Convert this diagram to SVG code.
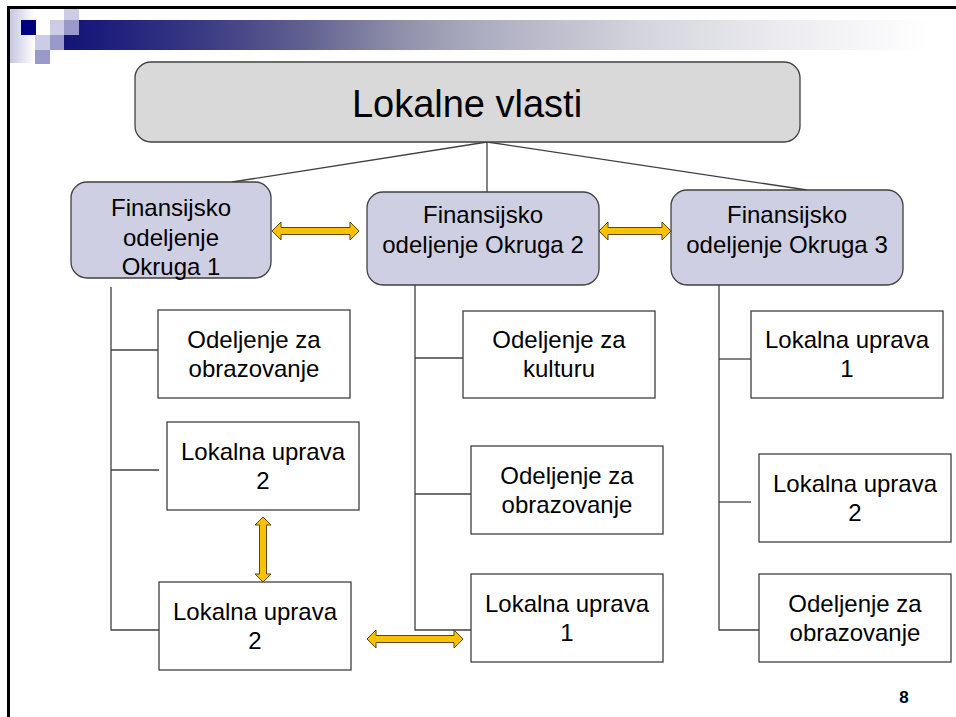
<svg xmlns="http://www.w3.org/2000/svg" width="956" height="717" viewBox="0 0 956 717">
<defs>
<linearGradient id="bar" gradientUnits="userSpaceOnUse" x1="64" y1="0" x2="956" y2="0">
<stop offset="0" stop-color="#14147a"/>
<stop offset="0.04" stop-color="#1c1c7c"/>
<stop offset="0.155" stop-color="#3a3a84"/>
<stop offset="0.265" stop-color="#5f5f90"/>
<stop offset="0.376" stop-color="#8f8faa"/>
<stop offset="0.466" stop-color="#acacc0"/>
<stop offset="0.646" stop-color="#d4d4dd"/>
<stop offset="0.825" stop-color="#eeeef2"/>
<stop offset="0.97" stop-color="#ffffff"/>
</linearGradient>
<linearGradient id="fade" x1="0" y1="0" x2="1" y2="0">
<stop offset="0" stop-color="#c6c6e2"/>
<stop offset="1" stop-color="#ffffff"/>
</linearGradient>
</defs>
<style>
.rbox{fill:#cfcfe3;stroke:#404040;stroke-width:1.3}
.top{fill:#d9d9d9;stroke:#404040;stroke-width:1.3}
.box{fill:#ffffff;stroke:#404040;stroke-width:1.3}
.ln{stroke:#404040;stroke-width:1.3;fill:none}
.arr{fill:#ffc000;stroke:#5c4800;stroke-width:1}
text{font-family:"Liberation Sans",Arial,sans-serif;fill:#000;text-anchor:middle}
.t{font-size:24px}
</style>
<rect width="956" height="717" fill="#ffffff"/>
<g id="header">
<rect x="10" y="9" width="25" height="54" fill="url(#fade)"/>
<rect x="64" y="20" width="892" height="30" fill="url(#bar)"/>
<rect x="64" y="9" width="15" height="11" fill="#ccccE6"/>
<rect x="21" y="20" width="15" height="15" fill="#000080"/>
<rect x="50" y="20" width="14" height="15" fill="#ccccE6"/>
<rect x="64" y="20" width="15" height="15" fill="#9999cc"/>
<rect x="35" y="35" width="15" height="15" fill="#ccccE6"/>
<rect x="50" y="35" width="14" height="15" fill="#9999cc"/>
<rect x="35" y="50" width="15" height="14" fill="#9999cc"/>
<line x1="7" y1="7.5" x2="956" y2="7.5" stroke="#000" stroke-width="3"/>
<line x1="8.5" y1="6" x2="8.5" y2="717" stroke="#000" stroke-width="3"/>
</g>
<g id="connectors">
<line class="ln" x1="487" y1="142" x2="232" y2="182"/>
<line class="ln" x1="487" y1="142" x2="487" y2="192"/>
<line class="ln" x1="487" y1="142" x2="807" y2="190"/>
<polyline class="ln" points="111,287 111,630 159,630"/>
<line class="ln" x1="111" y1="350" x2="158" y2="350"/>
<line class="ln" x1="111" y1="470" x2="159" y2="470"/>
<polyline class="ln" points="415,285 415,630 471,630"/>
<line class="ln" x1="415" y1="358" x2="463" y2="358"/>
<line class="ln" x1="415" y1="494" x2="471" y2="494"/>
<polyline class="ln" points="719,285 719,630 759,630"/>
<line class="ln" x1="719" y1="359" x2="751" y2="359"/>
<line class="ln" x1="719" y1="502" x2="751" y2="502"/>
<polygon class="arr" points="272,231 281,222 281,227.5 350,227.5 350,222 359,231 350,240 350,234.5 281,234.5 281,240"/>
<polygon class="arr" points="599,231 608,222 608,227.5 662,227.5 662,222 671,231 662,240 662,234.5 608,234.5 608,240"/>
<polygon class="arr" points="367,639 376,630 376,635.5 454,635.5 454,630 463,639 454,648 454,642.5 376,642.5 376,648"/>
<polygon class="arr" points="263,517 271,525 266.5,525 266.5,574 271,574 263,582 255,574 259.5,574 259.5,525 255,525"/>
</g>
<g id="n-root">
<rect class="top" x="135" y="62" width="665" height="80" rx="16"/>
<text x="467" y="117" font-size="38">Lokalne vlasti</text>
</g>
<g id="n-fin1">
<rect class="rbox" x="71" y="182" width="200" height="96" rx="16"/>
<text class="t" x="171" y="216">Finansijsko</text>
<text class="t" x="171" y="246">odeljenje</text>
<text class="t" x="171" y="275">Okruga 1</text>
</g>
<g id="n-fin2">
<rect class="rbox" x="367" y="192" width="232" height="93" rx="16"/>
<text class="t" x="483" y="223">Finansijsko</text>
<text class="t" x="483" y="253">odeljenje Okruga 2</text>
</g>
<g id="n-fin3">
<rect class="rbox" x="671" y="190" width="232" height="95" rx="16"/>
<text class="t" x="787" y="223">Finansijsko</text>
<text class="t" x="787" y="253">odeljenje Okruga 3</text>
</g>
<g id="n-l1">
<rect class="box" x="158" y="310" width="192" height="88"/>
<text class="t" x="254" y="348">Odeljenje za</text>
<text class="t" x="254" y="377">obrazovanje</text>
</g>
<g id="n-l2">
<rect class="box" x="167" y="422" width="192" height="88"/>
<text class="t" x="263" y="460">Lokalna uprava</text>
<text class="t" x="263" y="489">2</text>
</g>
<g id="n-l3">
<rect class="box" x="159" y="582" width="192" height="88"/>
<text class="t" x="255" y="620">Lokalna uprava</text>
<text class="t" x="255" y="649">2</text>
</g>
<g id="n-m1">
<rect class="box" x="463" y="311" width="192" height="87"/>
<text class="t" x="559" y="348">Odeljenje za</text>
<text class="t" x="559" y="377">kulturu</text>
</g>
<g id="n-m2">
<rect class="box" x="471" y="446" width="192" height="88"/>
<text class="t" x="567" y="484">Odeljenje za</text>
<text class="t" x="567" y="513">obrazovanje</text>
</g>
<g id="n-m3">
<rect class="box" x="471" y="574" width="192" height="88"/>
<text class="t" x="567" y="612">Lokalna uprava</text>
<text class="t" x="567" y="641">1</text>
</g>
<g id="n-r1">
<rect class="box" x="751" y="311" width="192" height="87"/>
<text class="t" x="847" y="348">Lokalna uprava</text>
<text class="t" x="847" y="377">1</text>
</g>
<g id="n-r2">
<rect class="box" x="759" y="454" width="192" height="88"/>
<text class="t" x="855" y="492">Lokalna uprava</text>
<text class="t" x="855" y="521">2</text>
</g>
<g id="n-r3">
<rect class="box" x="759" y="574" width="192" height="88"/>
<text class="t" x="855" y="612">Odeljenje za</text>
<text class="t" x="855" y="641">obrazovanje</text>
</g>
<text x="904" y="703" font-size="17" font-weight="bold">8</text>
</svg>
